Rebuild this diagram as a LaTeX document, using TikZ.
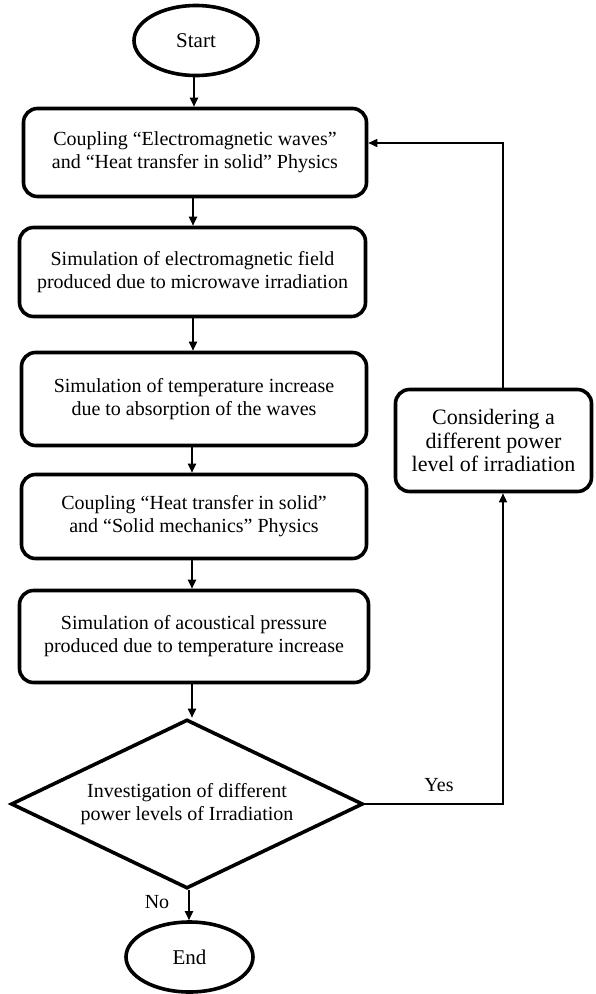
\documentclass[tikz,border=0pt]{standalone}
\usepackage{fontspec}
\setmainfont{Liberation Serif}
\usetikzlibrary{shapes.geometric,arrows.meta}
\begin{document}
\begin{tikzpicture}[x=1pt,y=-1pt,
  every node/.style={font=\fontsize{20}{23}\selectfont},
  procbox/.style={draw, line width=3.6pt, rounded corners=14pt, align=center, inner sep=0pt},
  term/.style={draw, ellipse, line width=3.6pt, inner sep=0pt, font=\fontsize{21}{24}\selectfont},
  decis/.style={draw, diamond, aspect=2.06, line width=3.6pt, align=center, inner sep=0pt},
  flow/.style={line width=1.8pt, -{Triangle[length=9pt,width=8pt]}},
  back/.style={line width=1.5pt, -{Triangle[length=9pt,width=8pt]}},
  lbl/.style={inner sep=0pt}]
\useasboundingbox (0,0) rectangle (596,994);
\node[term, minimum width=124pt, minimum height=70pt] (start) at (196,40.5) {Start};
\node[procbox, minimum width=343pt, minimum height=88pt] (b1) at (195,152.5)
  {Coupling “Electromagnetic waves”\\and “Heat transfer in solid” Physics};
\node[procbox, minimum width=346pt, minimum height=89pt] (b2) at (192.5,272)
  {Simulation of electromagnetic field\\produced due to microwave irradiation};
\node[procbox, minimum width=345pt, minimum height=93pt] (b3) at (194,399)
  {Simulation of temperature increase\\due to absorption of the waves};
\node[procbox, minimum width=345pt, minimum height=84pt] (b4) at (194,516.5)
  {Coupling “Heat transfer in solid”\\and “Solid mechanics” Physics};
\node[procbox, minimum width=349pt, minimum height=92pt] (b5) at (194,636.5)
  {Simulation of acoustical pressure\\produced due to temperature increase};
\node[decis, minimum width=352pt, minimum height=169pt] (dec) at (187,804)
  {Investigation of different\\power levels of Irradiation};
\node[term, minimum width=127pt, minimum height=70pt] (end) at (189.5,957) {End};
\node[procbox, minimum width=196pt, minimum height=102pt, font=\fontsize{22}{23.5}\selectfont] (b6) at (493.5,440.5)
  {Considering a\\different power\\level of irradiation};
\coordinate (c1) at (503,804);
\coordinate (c2) at (503,143);
\draw[flow] (start.south -| 194,0) -- (194,0 |- b1.north);
\draw[flow] (b1.south -| 193,0) -- (193,0 |- b2.north);
\draw[flow] (b2.south -| 193,0) -- (193,0 |- b3.north);
\draw[flow] (b3.south -| 192,0) -- (192,0 |- b4.north);
\draw[flow] (b4.south -| 192,0) -- (192,0 |- b5.north);
\draw[flow] (b5.south -| 192,0) -- (192,0 |- dec.north);
\draw[flow] (dec.south -| 189,0) -- (189,0 |- end.north);
\draw[back] (dec.east) -- (c1) -- (c1 |- b6.south);
\draw[back] (c1 |- b6.north) -- (c2) -- (c2 -| b1.east);
\node[lbl] (yes) at (439,785) {Yes};
\node[lbl] (no) at (157,902) {No};
\end{tikzpicture}
\end{document}
